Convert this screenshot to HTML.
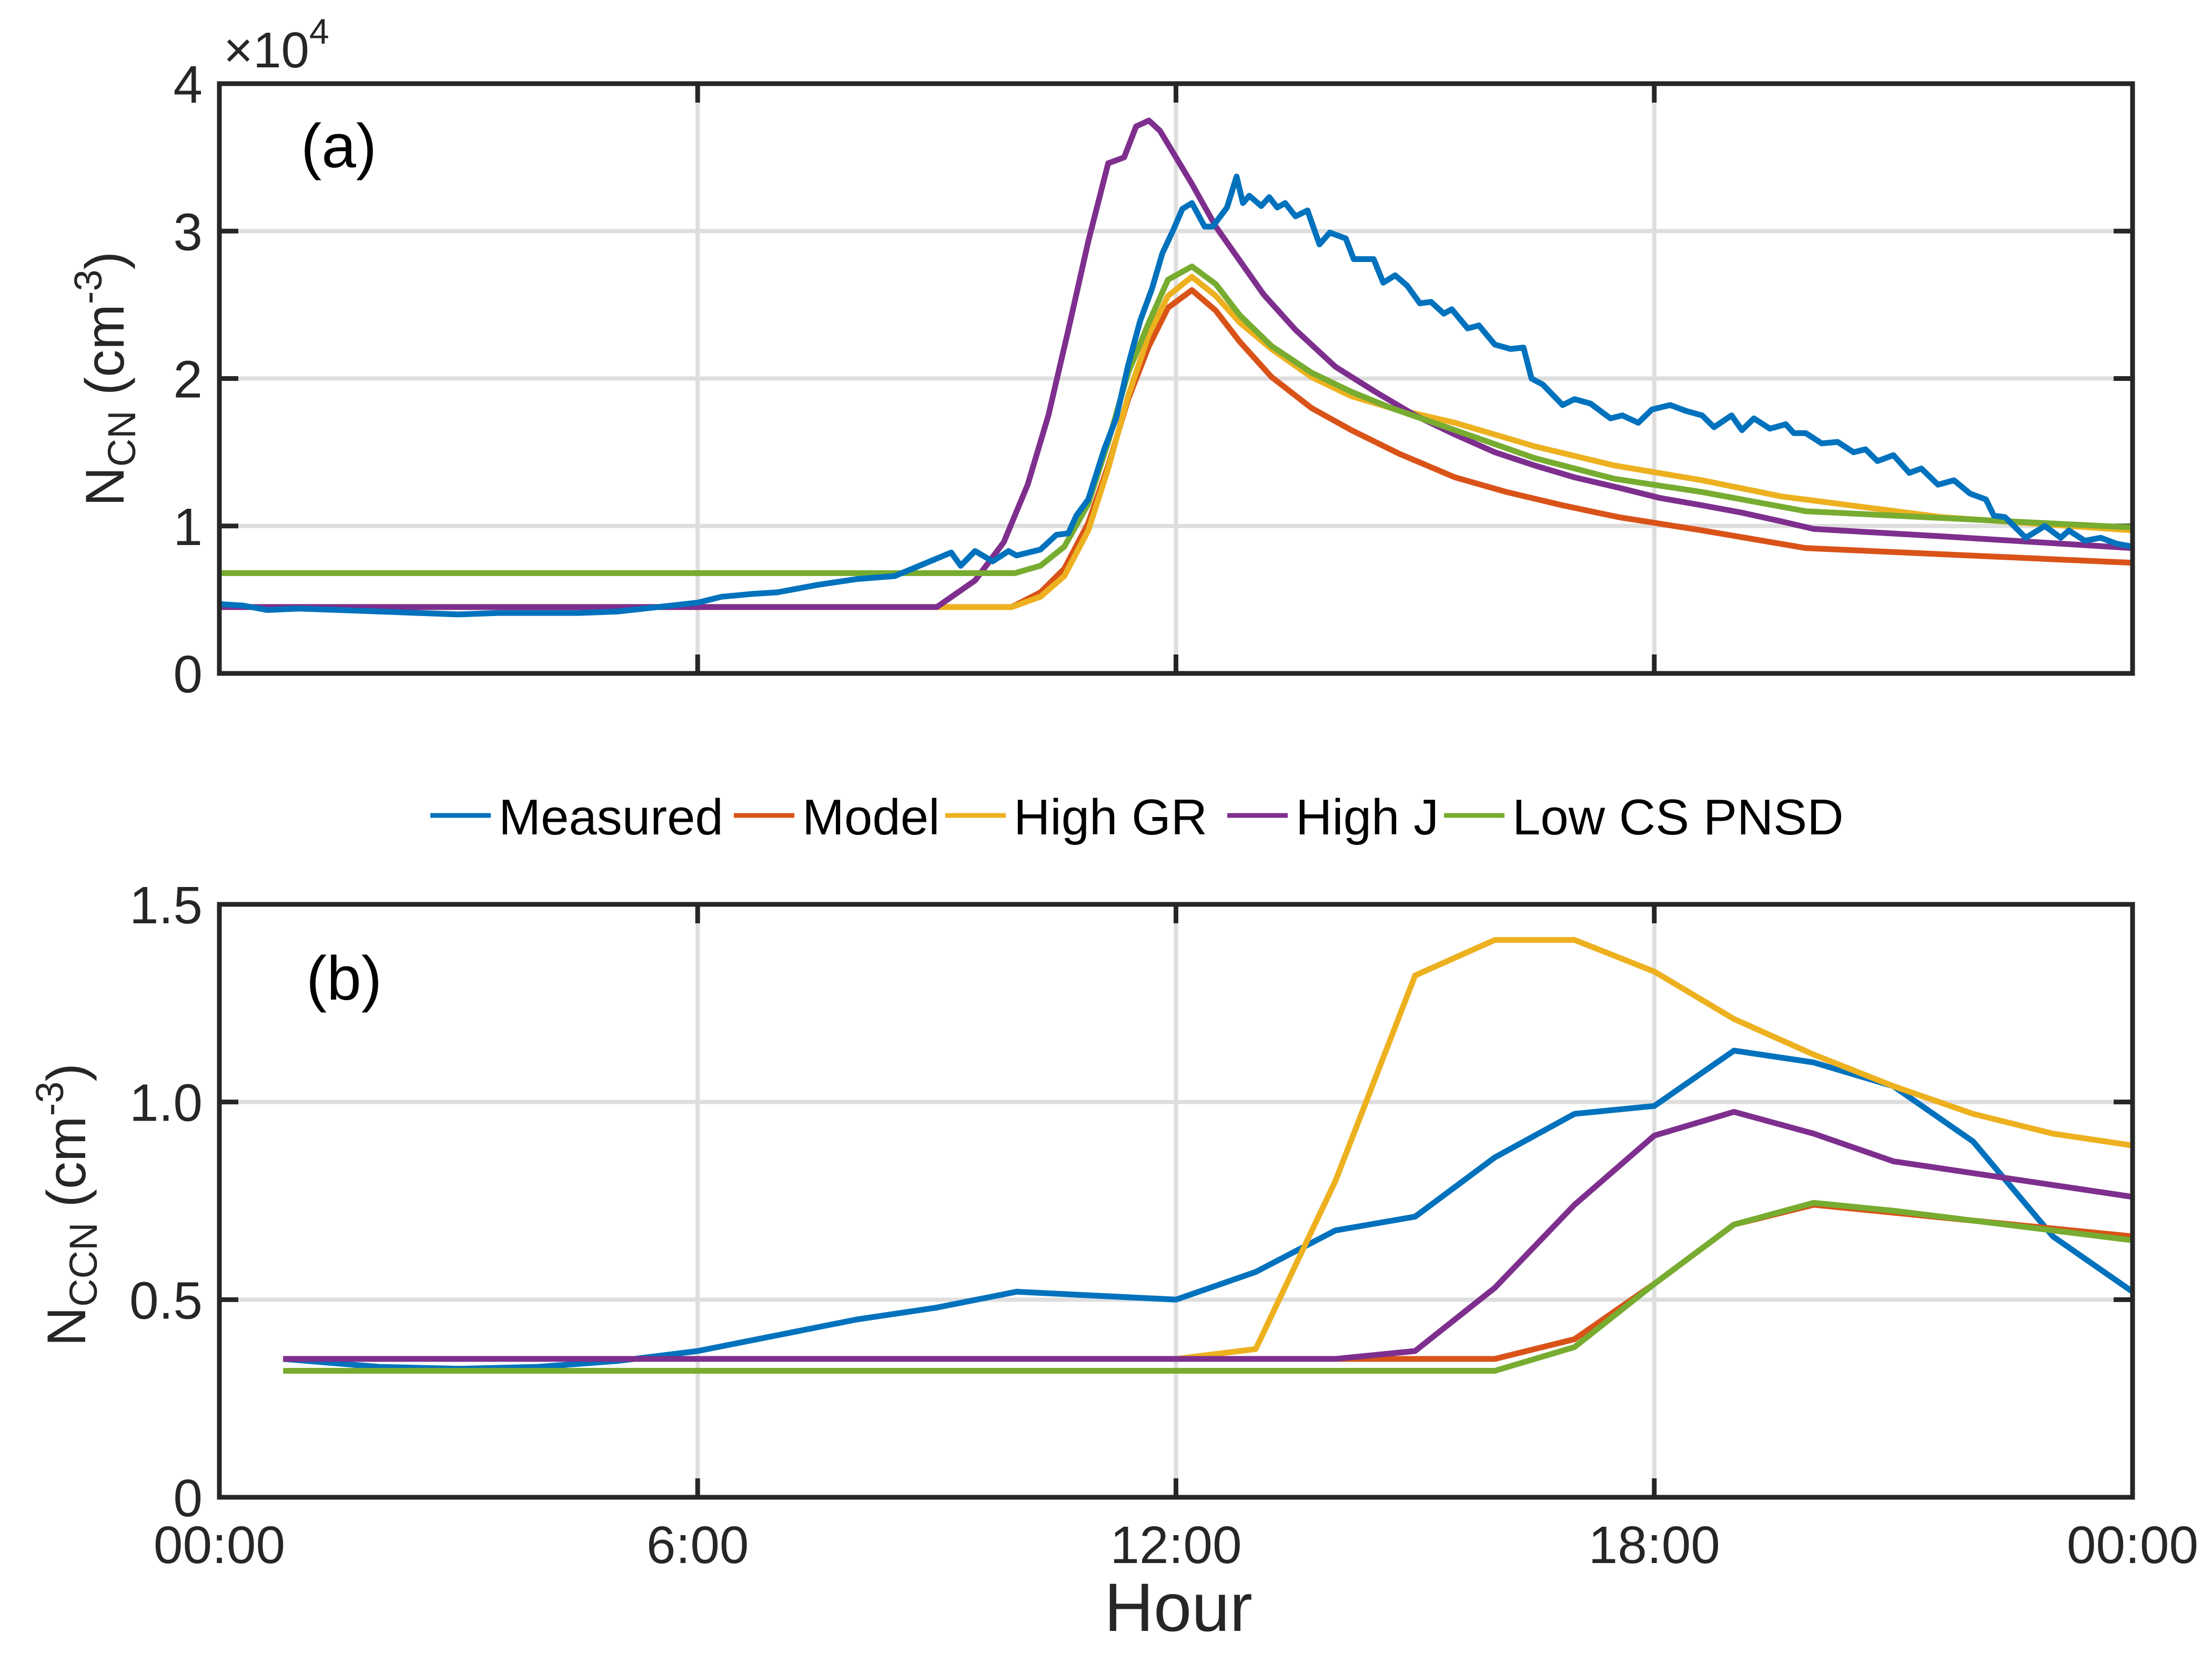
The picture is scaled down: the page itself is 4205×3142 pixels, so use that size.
<!DOCTYPE html>
<html><head><meta charset="utf-8"><style>
html,body{margin:0;padding:0;background:#fff}
svg{display:block;font-family:"Liberation Sans",Arial,sans-serif}
</style></head><body>
<svg id="chart" width="4205" height="3142" viewBox="0 0 4205 3142" xmlns="http://www.w3.org/2000/svg">
<rect width="4205" height="3142" fill="#fff"/>
<g id="pa"></g>
<g id="pb"></g>
<g id="legend"></g>
</svg>
<script>
// ---- Panel (a) data: hours, values in units of 1e4 cm^-3 ----
const aMeasX=[0,0.3,0.6,1,1.5,2,2.5,3,3.5,4,4.5,5,5.5,6,6.3,6.7,7,7.5,8,8.47,9.18,9.3,9.48,9.7,9.9,10.0,10.3,10.5,10.65,10.75,10.9,11.1,11.25,11.4,11.55,11.7,11.83,11.96,12.08,12.2,12.36,12.46,12.64,12.76,12.84,12.92,13.07,13.17,13.27,13.37,13.5,13.65,13.8,13.93,14.13,14.23,14.48,14.6,14.75,14.9,15.06,15.2,15.36,15.46,15.66,15.8,16.0,16.2,16.36,16.46,16.6,16.85,17.0,17.2,17.45,17.6,17.8,17.97,18.2,18.4,18.6,18.75,18.97,19.1,19.25,19.45,19.65,19.75,19.9,20.1,20.3,20.5,20.65,20.8,21.0,21.2,21.35,21.56,21.76,21.96,22.16,22.26,22.4,22.66,22.9,23.1,23.2,23.4,23.6,23.8,24];
const aMeasY=[0.47,0.46,0.43,0.44,0.43,0.42,0.41,0.40,0.41,0.41,0.41,0.42,0.45,0.48,0.52,0.54,0.55,0.60,0.64,0.66,0.82,0.73,0.83,0.76,0.83,0.80,0.84,0.94,0.95,1.07,1.18,1.52,1.73,2.09,2.39,2.61,2.85,3.0,3.15,3.19,3.03,3.03,3.16,3.37,3.19,3.24,3.17,3.23,3.16,3.19,3.10,3.14,2.91,2.99,2.95,2.81,2.81,2.65,2.70,2.63,2.51,2.52,2.44,2.47,2.34,2.36,2.23,2.20,2.21,2.00,1.96,1.82,1.86,1.83,1.73,1.75,1.70,1.79,1.82,1.78,1.75,1.67,1.75,1.65,1.73,1.66,1.69,1.63,1.63,1.56,1.57,1.50,1.52,1.44,1.48,1.36,1.39,1.28,1.31,1.22,1.18,1.07,1.06,0.92,1.0,0.92,0.97,0.90,0.92,0.88,0.86];
const aModX=[0,9.94,10.3,10.6,10.9,11.15,11.4,11.66,11.9,12.2,12.5,12.8,13.2,13.7,14.2,14.8,15.5,16.15,16.85,17.55,18.6,19.9,24];
const aModY=[0.45,0.45,0.55,0.71,1.02,1.41,1.86,2.22,2.48,2.6,2.46,2.25,2.01,1.80,1.65,1.49,1.33,1.23,1.14,1.06,0.97,0.85,0.75];
const aGRX=[0,9.94,10.3,10.6,10.9,11.15,11.4,11.66,11.9,12.2,12.5,12.8,13.2,13.7,14.2,14.7,15.5,16.5,17.5,18.6,19.6,20.6,21.6,24];
const aGRY=[0.45,0.45,0.52,0.66,0.97,1.39,1.88,2.30,2.56,2.69,2.56,2.38,2.20,2.01,1.88,1.80,1.70,1.54,1.41,1.31,1.20,1.13,1.06,0.97];
const aJX=[0,9.0,9.48,9.84,10.14,10.4,10.65,10.9,11.15,11.35,11.5,11.66,11.8,12.0,12.2,12.5,12.8,13.1,13.5,14.0,14.5,15.0,15.5,16.0,16.5,17.0,17.55,18.07,18.6,19.1,19.6,20.0,21.6,24];
const aJY=[0.45,0.45,0.63,0.89,1.28,1.75,2.33,2.93,3.46,3.50,3.71,3.75,3.68,3.50,3.32,3.03,2.80,2.57,2.33,2.08,1.91,1.75,1.62,1.50,1.41,1.33,1.26,1.19,1.14,1.09,1.03,0.98,0.93,0.85];
const aCSX=[0,9.98,10.3,10.6,10.9,11.15,11.4,11.66,11.9,12.2,12.5,12.8,13.2,13.7,14.2,14.7,15.5,16.5,17.5,18.6,19.9,24];
const aCSY=[0.68,0.68,0.73,0.86,1.15,1.57,2.04,2.38,2.67,2.76,2.64,2.43,2.22,2.04,1.91,1.80,1.65,1.46,1.32,1.23,1.10,0.99];
// ---- Panel (b) data ----
const bMeasX=[0.8,2,3,4,5,6,7,8,9,10,12,13,14,15,16,17,18,19,20,21,22,23,24];
const bMeasY=[0.35,0.33,0.325,0.33,0.345,0.37,0.41,0.45,0.48,0.52,0.50,0.57,0.675,0.71,0.86,0.97,0.99,1.13,1.10,1.04,0.90,0.66,0.52];
const bX=[0.8,12,13,14,15,16,17,18,19,20,21,22,23,24];
const bModY=[0.35,0.35,0.35,0.35,0.35,0.35,0.40,0.54,0.69,0.74,0.72,0.70,0.68,0.66];
const bGRY=[0.35,0.35,0.375,0.80,1.32,1.41,1.41,1.33,1.21,1.12,1.04,0.97,0.92,0.89];
const bJY=[0.35,0.35,0.35,0.35,0.37,0.53,0.74,0.915,0.975,0.92,0.85,0.82,0.79,0.76];
const bCSY=[0.32,0.32,0.32,0.32,0.32,0.32,0.38,0.54,0.69,0.745,0.725,0.70,0.675,0.65];
const xTickLabels=["00:00","6:00","12:00","18:00","00:00"];
const aTickLabels=["0","1","2","3","4"];
const bTickLabels=["0","0.5","1.0","1.5"];
const seriesNames=["Measured","Model","High GR","High J","Low CS PNSD"];

const C=["#0072BD","#D95319","#EDB120","#7E2F8E","#77AC30"];
const NS="http://www.w3.org/2000/svg";
const L=417,R=4054;
function xs(h){return L+(R-L)*h/24;}
function mk(parent,tag,attrs){const e=document.createElementNS(NS,tag);for(const k in attrs)e.setAttribute(k,attrs[k]);parent.appendChild(e);return e;}

function panel(g,top,bot,ymax,ticks,tickLabels,showX){
  const ys=v=>bot-(bot-top)*v/ymax;
  for(let i=1;i<4;i++){const gl=mk(g,'line',{x1:xs(i*6),x2:xs(i*6),y1:top,y2:bot,stroke:'#dedede','stroke-width':8});
    
    }
  ticks.forEach((t,i)=>{
    if(i>0&&i<ticks.length-1){const gl=mk(g,'line',{x1:L,x2:R,y1:ys(t),y2:ys(t),stroke:'#dedede','stroke-width':8});
      
      }
    const tl=mk(g,'text',{x:385,y:ys(t)+36,'text-anchor':'end','font-size':100,fill:'#262626'});
    tl.textContent=tickLabels[i];
    
    
    mk(g,'line',{x1:L,x2:L+36,y1:ys(t),y2:ys(t),stroke:'#262626','stroke-width':9});
    mk(g,'line',{x1:R-36,x2:R,y1:ys(t),y2:ys(t),stroke:'#262626','stroke-width':9});
  });
  for(let i=1;i<4;i++){
    mk(g,'line',{x1:xs(i*6),x2:xs(i*6),y1:bot,y2:bot-36,stroke:'#262626','stroke-width':9});
    mk(g,'line',{x1:xs(i*6),x2:xs(i*6),y1:top,y2:top+36,stroke:'#262626','stroke-width':9});
  }
  if(showX){xTickLabels.forEach((s,i)=>{const t=mk(g,'text',{x:xs(i*6),y:bot+125,'text-anchor':'middle','font-size':100,fill:'#262626'});t.textContent=s;
    
    });}
  return ys;
}
function line(g,X,Y,xsF,ysF,color,name){
  const d=X.map((x,i)=>(i?'L':'M')+xsF(x).toFixed(1)+','+ysF(Y[i]).toFixed(1)).join('');
  const p=mk(g,'path',{d:d,fill:'none',stroke:color,'stroke-width':11,'stroke-linejoin':'round'});
  
  
}
const pa=document.getElementById('pa'),pb=document.getElementById('pb');
const aTop=159,aBot=1280,bTop=1719,bBot=2846;
const ya=panel(pa,aTop,aBot,4,[0,1,2,3,4],aTickLabels,false);
line(pa,aModX,aModY,xs,ya,C[1],'line-model-a');
line(pa,aGRX,aGRY,xs,ya,C[2],'line-high-gr-a');
line(pa,aJX,aJY,xs,ya,C[3],'line-high-j-a');
line(pa,aCSX,aCSY,xs,ya,C[4],'line-low-cs-a');
line(pa,aMeasX,aMeasY,xs,ya,C[0],'line-measured-a');
mk(pa,'rect',{x:L,y:aTop,width:R-L,height:aBot-aTop,fill:'none',stroke:'#262626','stroke-width':9});
const yb=panel(pb,bTop,bBot,1.5,[0,0.5,1.0,1.5],bTickLabels,true);
line(pb,bMeasX,bMeasY,xs,yb,C[0],'line-measured-b');
line(pb,bX,bModY,xs,yb,C[1],'line-model-b');
line(pb,bX,bGRY,xs,yb,C[2],'line-high-gr-b');
line(pb,bX,bJY,xs,yb,C[3],'line-high-j-b');
line(pb,bX,bCSY,xs,yb,C[4],'line-low-cs-b');
mk(pb,'rect',{x:L,y:bTop,width:R-L,height:bBot-bTop,fill:'none',stroke:'#262626','stroke-width':9});
const lg=document.getElementById('legend');
const legX=[818,1395,1797,2333,2745];
seriesNames.forEach((n,i)=>{
  const ln=mk(lg,'line',{x1:legX[i],x2:legX[i]+115,y1:1550,y2:1550,stroke:C[i],'stroke-width':9});
  
  
  const t=mk(lg,'text',{x:legX[i]+130,y:1586,'font-size':96,fill:'#000'});t.textContent=n;
  
  
});
</script>
<div style="position:absolute;left:0;top:0;width:4205px;height:3142px;pointer-events:none">
<svg width="4205" height="3142" style="position:absolute;left:0;top:0" font-family="Liberation Sans, Arial, sans-serif">
<text x="425" y="128" font-size="96" fill="#262626">×10<tspan dy="-45" font-size="68">4</tspan></text>
<text x="572" y="318" font-size="118" fill="#000">(a)</text>
<text x="582" y="1900" font-size="118" fill="#000">(b)</text>
<text x="2240" y="3100" font-size="130" text-anchor="middle" fill="#262626">Hour</text>
<text transform="translate(235,720) rotate(-90)" text-anchor="middle" font-size="104" fill="#262626">N<tspan dy="22" font-size="74">CN</tspan><tspan dy="-22"> (cm</tspan><tspan dy="-42" font-size="74">-3</tspan><tspan dy="42">)</tspan></text>
<text transform="translate(162,2290) rotate(-90)" text-anchor="middle" font-size="104" fill="#262626">N<tspan dy="22" font-size="74">CCN</tspan><tspan dy="-22"> (cm</tspan><tspan dy="-42" font-size="74">-3</tspan><tspan dy="42">)</tspan></text>
</svg></div>
</body></html>
